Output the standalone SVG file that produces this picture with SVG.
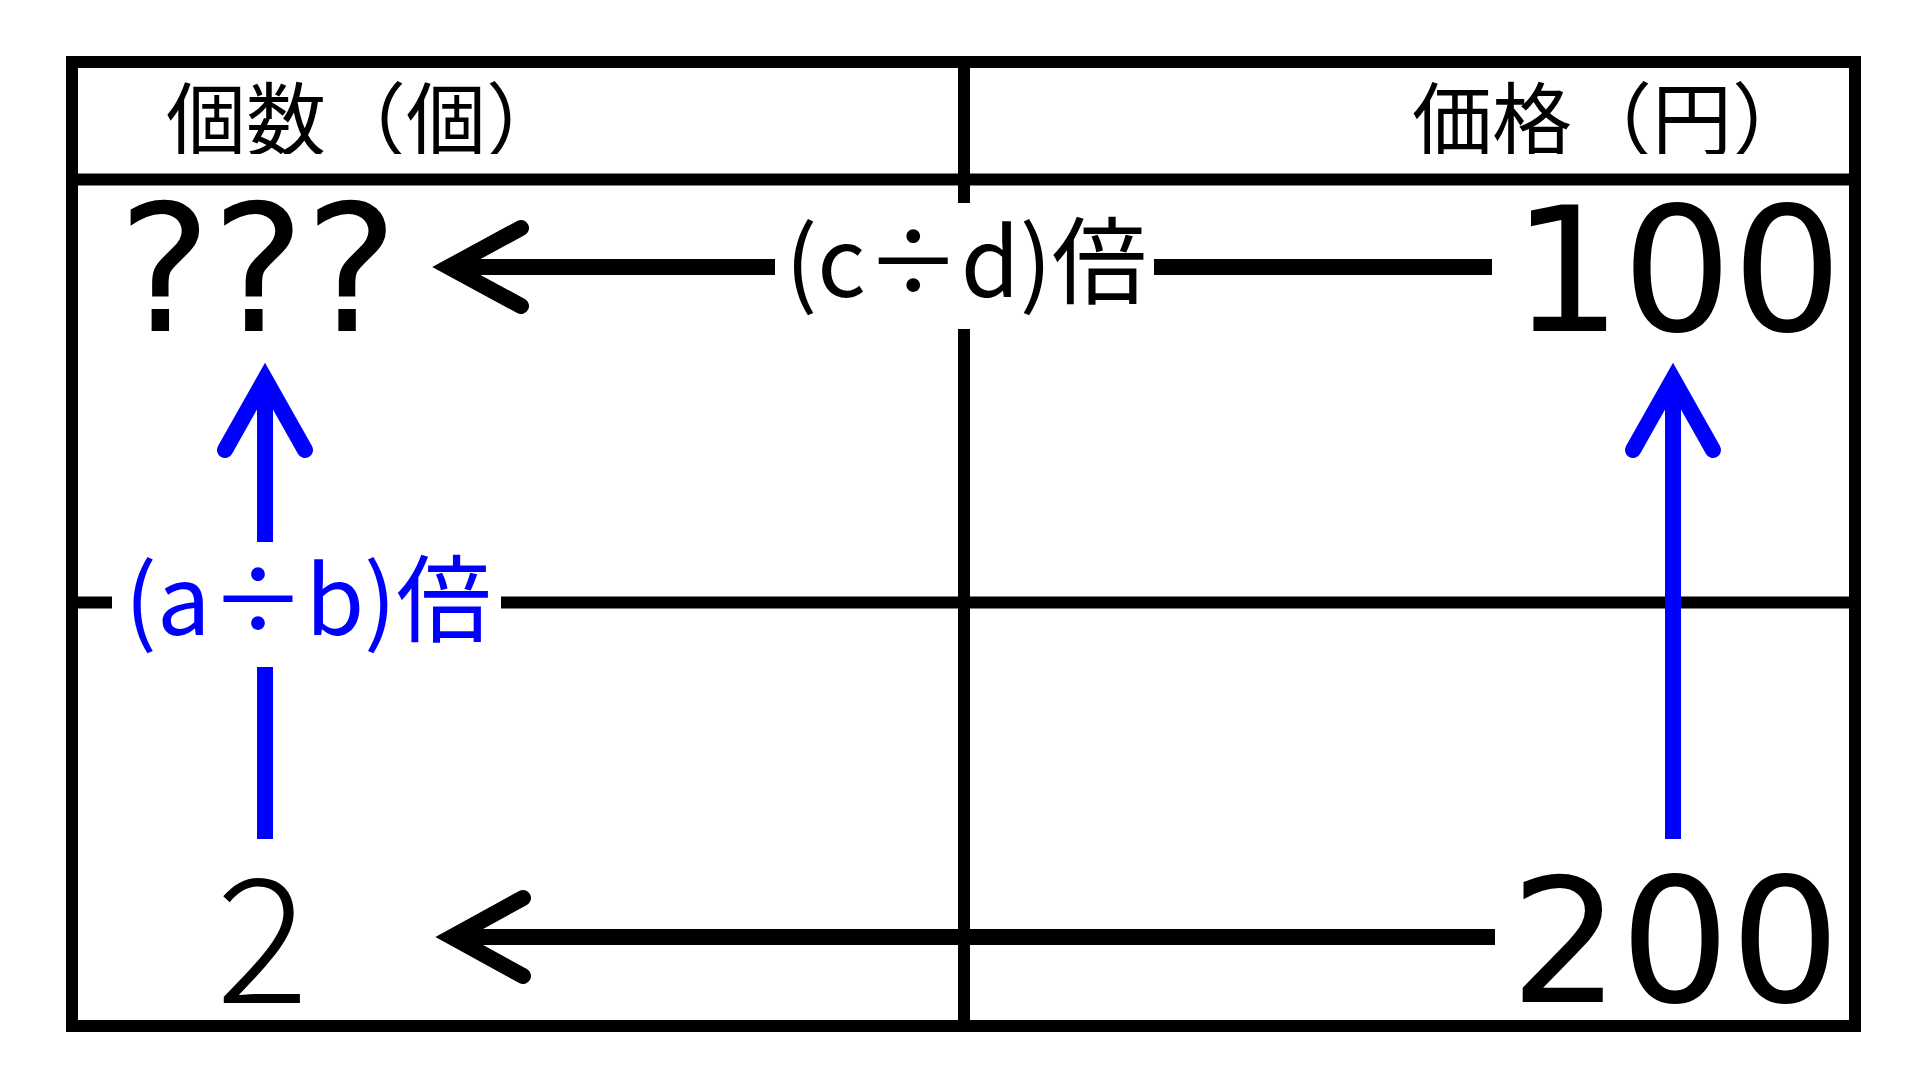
<svg xmlns="http://www.w3.org/2000/svg" width="1920" height="1080" viewBox="0 0 1920 1080">
<style>
.grid{stroke:#000;stroke-width:12;fill:none;stroke-linecap:butt}
.shaft{stroke-width:16;fill:none;stroke-linecap:butt}
.head{stroke-width:16;fill:none;stroke-linecap:round;stroke-linejoin:miter;stroke-miterlimit:10}
.blk{stroke:#000}
.blu{stroke:#0000ff}
.hdr{font-family:"Noto Sans CJK JP","Noto Sans CJK SC",sans-serif;font-size:80px;fill:#000}
.num{font-family:"DejaVu Sans",sans-serif;fill:#000}
.lbl{font-family:"Noto Sans CJK JP","Noto Sans CJK SC",sans-serif;font-size:95px;text-anchor:middle}
</style>
<defs>
<clipPath id="hclip"><rect x="0" y="60" width="1920" height="94"/></clipPath>
</defs>
<rect width="1920" height="1080" fill="#fff"/>
<g id="grid">
<rect class="grid" x="72" y="62" width="1783" height="964"/>
<line class="grid" x1="72" y1="179.5" x2="1855" y2="179.5"/>
<line class="grid" x1="964" y1="62" x2="964" y2="203"/>
<line class="grid" x1="964" y1="329" x2="964" y2="1026"/>
<line class="grid" x1="72" y1="602.5" x2="112" y2="602.5"/>
<line class="grid" x1="501" y1="602.5" x2="1855" y2="602.5"/>
</g>
<g id="connectors">
<g id="arrow-top">
<line class="shaft blk" x1="449" y1="267" x2="775" y2="267"/>
<line class="shaft blk" x1="1154" y1="267" x2="1492" y2="267"/>
<polyline class="head blk" points="521,228 449,267 521,306"/>
</g>
<g id="arrow-bottom">
<line class="shaft blk" x1="452" y1="937" x2="1495" y2="937"/>
<polyline class="head blk" points="523,898 452,937 523,976"/>
</g>
<g id="arrow-left">
<line class="shaft blu" x1="265" y1="379" x2="265" y2="542"/>
<line class="shaft blu" x1="265" y1="667" x2="265" y2="839"/>
<polyline class="head blu" points="225,450 265,379 305,450"/>
</g>
<g id="arrow-right">
<line class="shaft blu" x1="1673" y1="379" x2="1673" y2="839"/>
<polyline class="head blu" points="1633,450 1673,379 1713,450"/>
</g>
</g>
<g id="header-count" clip-path="url(#hclip)"><text class="hdr" x="166" y="149">個数（個）</text></g>
<g id="header-price" clip-path="url(#hclip)"><text class="hdr" x="1412" y="149">価格（円）</text></g>
<g id="cell-unknown"><text class="num" x="118" y="331" font-size="176">???</text></g>
<g id="cell-100"><text class="num" x="1512" y="331" font-size="173">100</text></g>
<g id="cell-2"><text x="216" y="1003" font-family="'Noto Sans CJK JP','Noto Sans CJK SC',sans-serif" font-weight="300" font-size="173" fill="#000">2</text></g>
<g id="cell-200"><text class="num" x="1510" y="1002" font-size="173">200</text></g>
<g id="label-cd"><text class="lbl" x="966" y="297" fill="#000">(c÷d)倍</text></g>
<g id="label-ab"><text class="lbl" x="308" y="635" fill="#0000ff">(a÷b)倍</text></g>
</svg>
